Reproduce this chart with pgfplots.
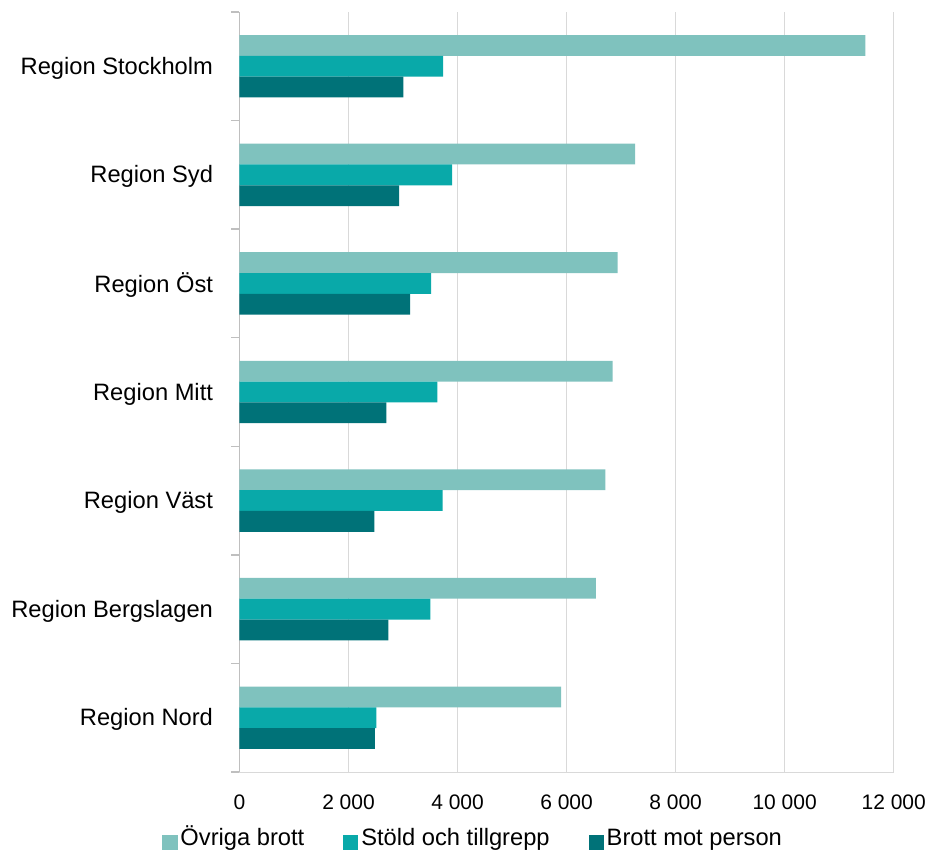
\documentclass[border=0pt]{standalone}
\usepackage{fontspec}
\setmainfont{Liberation Sans}
\usepackage{pgfplots}
\pgfplotsset{compat=1.18}
\definecolor{cA}{HTML}{7FC2BE}
\definecolor{cB}{HTML}{09A9A9}
\definecolor{cC}{HTML}{007278}
\definecolor{gridc}{HTML}{D9D9D9}
\definecolor{axc}{HTML}{BFBFBF}
\begin{document}
\begin{tikzpicture}
\useasboundingbox (-239.5bp,-80bp) rectangle (693.5bp,772bp);
\begin{axis}[
  at={(0,0)}, anchor=south west,
  scale only axis, width=654.2bp, height=760bp,
  xbar, bar width=20.8bp,
  xmin=0, xmax=12000, ymin=-0.5, ymax=6.5,
  scaled x ticks=false,
  axis x line*=bottom, axis y line*=left,
  x axis line style={-, draw=gridc, line width=1bp},
  y axis line style={-, draw=axc, line width=1.5bp},
  xtick={0,2000,4000,6000,8000,10000,12000},
  xticklabels={0,2 000,4 000,6 000,8 000,10 000,12 000},
  ytick={0,1,2,3,4,5,6},
  yticklabels={Region Nord,Region Bergslagen,Region Väst,Region Mitt,Region Öst,Region Syd,Region Stockholm},
  minor ytick={-0.5,0.5,1.5,2.5,3.5,4.5,5.5,6.5},
  minor xtick={},
  tick align=outside,
  major tick length=0pt, minor tick length=8bp,
  xtick style={draw=none}, ytick style={draw=none},
  minor y tick style={draw=axc, line width=1.5bp},
  xmajorgrids, major grid style={draw=gridc, line width=1bp},
  yticklabel style={font=\fontsize{23.7bp}{28bp}\selectfont, xshift=-23bp, yshift=-2bp},
  xticklabel style={font=\fontsize{21bp}{25bp}\selectfont, yshift=-19bp},
  legend columns=3,
  legend style={at={(0.358,-0.0882)}, anchor=center, draw=none, fill=none,
    font=\fontsize{23.7bp}{28bp}\selectfont,
    nodes={inner xsep=3bp, inner ysep=0bp, text height=17bp, text depth=5bp},
    /tikz/every even column/.append style={column sep=36bp}},
  legend image code/.code={\fill[#1] (0bp,-11bp) rectangle (15bp,4bp);},
]
\addplot[fill=cA, draw=none, bar shift=20.8bp] coordinates {(11480,6) (7256,5) (6938,4) (6846,3) (6712,2) (6535,1) (5901,0)};
\addplot[fill=cB, draw=none, bar shift=0bp] coordinates {(3733,6) (3898,5) (3513,4) (3630,3) (3727,2) (3502,1) (2513,0)};
\addplot[fill=cC, draw=none, bar shift=-20.8bp] coordinates {(3007,6) (2927,5) (3128,4) (2696,3) (2476,2) (2733,1) (2482,0)};
\legend{Övriga brott, Stöld och tillgrepp, Brott mot person}
\end{axis}
\end{tikzpicture}
\end{document}
